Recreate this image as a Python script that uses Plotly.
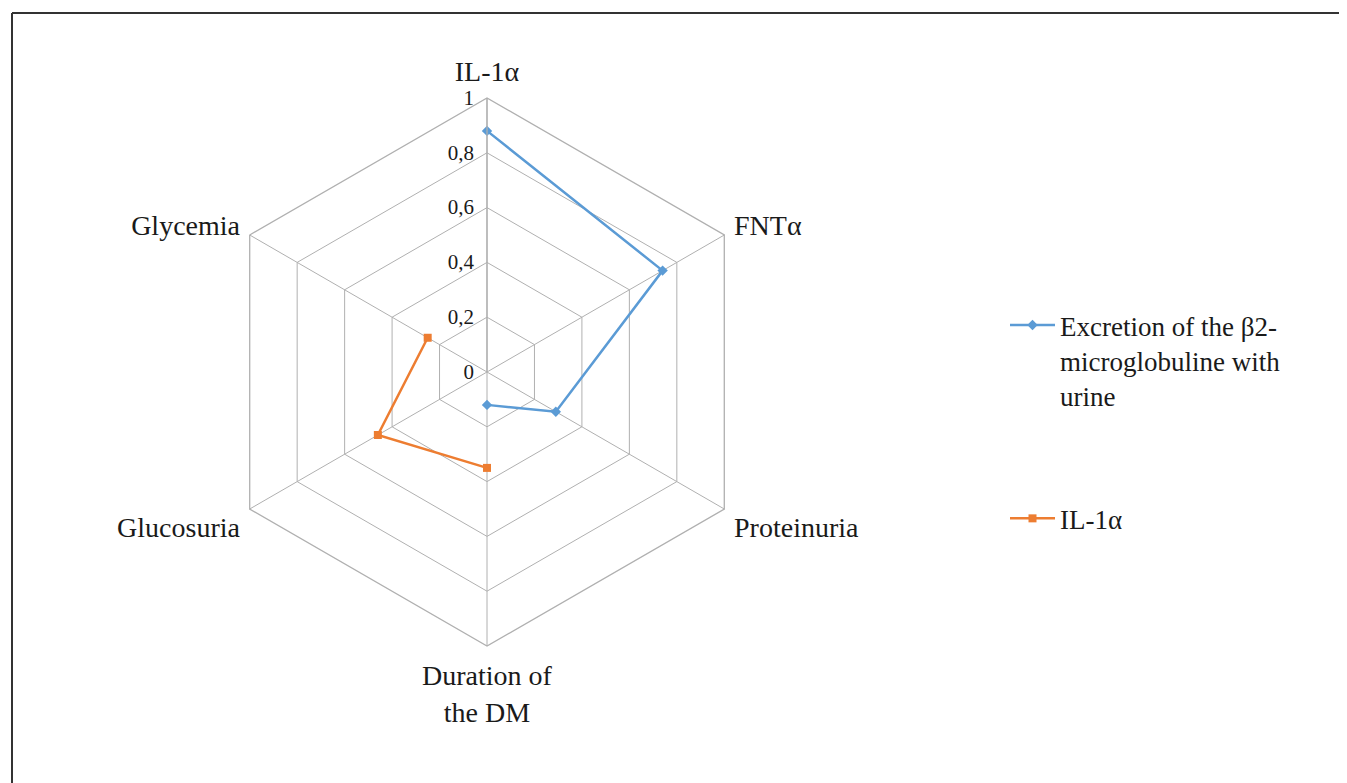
import plotly.graph_objects as go

categories = ["IL-1α", "FNTα", "Proteinuria", "Duration of<br>the DM", "Glucosuria", "Glycemia"]
excretion_b2 = [0.88, 0.74, 0.29, 0.12, None, None]
il1a = [None, None, None, 0.35, 0.46, 0.25]
series_names = ["Excretion of the β2-<br>microglobuline with<br>urine", "IL-1α"]
radial_ticks = [0, 0.2, 0.4, 0.6, 0.8, 1]

W, H = 1347, 783
OFF = 7  # page offset of the plot inside the browser window
font = "Liberation Serif, Times New Roman, serif"


def px_x(p):
    return (p - OFF) / W


def px_y(p):
    return 1 - (p - OFF) / H


fig = go.Figure()
fig.add_trace(go.Scatterpolar(
    r=excretion_b2, theta=categories, mode="lines+markers",
    name=series_names[0], legendgroup="a",
    line=dict(color="#5b9bd5", width=2.5),
    marker=dict(symbol="diamond", size=8, color="#5b9bd5"),
    connectgaps=False,
))
fig.add_trace(go.Scatterpolar(
    r=il1a, theta=categories, mode="lines+markers",
    name=series_names[1], legendgroup="b",
    line=dict(color="#ed7d31", width=2.5),
    marker=dict(symbol="square", size=8, color="#ed7d31"),
    connectgaps=False,
))

cx, cy, R = 486, 371, 274
fig.update_layout(
    width=W, height=H,
    margin=dict(l=0, r=0, t=0, b=0),
    paper_bgcolor="white",
    plot_bgcolor="white",
    separators=", ",
    font=dict(family=font, size=26, color="#1a1a1a"),
    polar=dict(
        domain=dict(x=[px_x(cx - R), px_x(cx + R)], y=[px_y(cy + R), px_y(cy - R)]),
        gridshape="linear",
        bgcolor="white",
        angularaxis=dict(
            rotation=90, direction="clockwise",
            categoryorder="array", categoryarray=categories,
            gridcolor="#b0b0b0", gridwidth=1.3,
            linecolor="#b0b0b0", linewidth=1.3,
            showline=True, ticks="outside", ticklen=5, tickcolor="rgba(0,0,0,0)",
            tickfont=dict(family=font, size=28, color="#1a1a1a"),
        ),
        radialaxis=dict(
            range=[0, 1], tickvals=radial_ticks, angle=90, tickangle=90,
            side="counterclockwise",
            gridcolor="#b0b0b0", gridwidth=1.3,
            linecolor="#b0b0b0", linewidth=1.3, showline=True,
            ticks="outside", ticklen=5, tickcolor="rgba(0,0,0,0)", tickformat=".1~f",
            tickfont=dict(family=font, size=21, color="#1a1a1a"),
        ),
    ),
    legend=dict(
        x=px_x(1004), y=px_y(300), xanchor="left", yanchor="top",
        font=dict(family=font, size=27, color="#1a1a1a"),
        tracegroupgap=85, valign="top", itemwidth=45,
        bgcolor="rgba(0,0,0,0)",
    ),
    showlegend=True,
    shapes=[
        dict(type="line", xref="paper", yref="paper", x0=px_x(11), x1=1.02, y0=px_y(12), y1=px_y(12),
             line=dict(color="#333333", width=2)),
        dict(type="line", xref="paper", yref="paper", x0=px_x(11), x1=px_x(11), y0=-0.02, y1=px_y(12),
             line=dict(color="#333333", width=2)),
    ],
)

fig.write_html("out.html")
